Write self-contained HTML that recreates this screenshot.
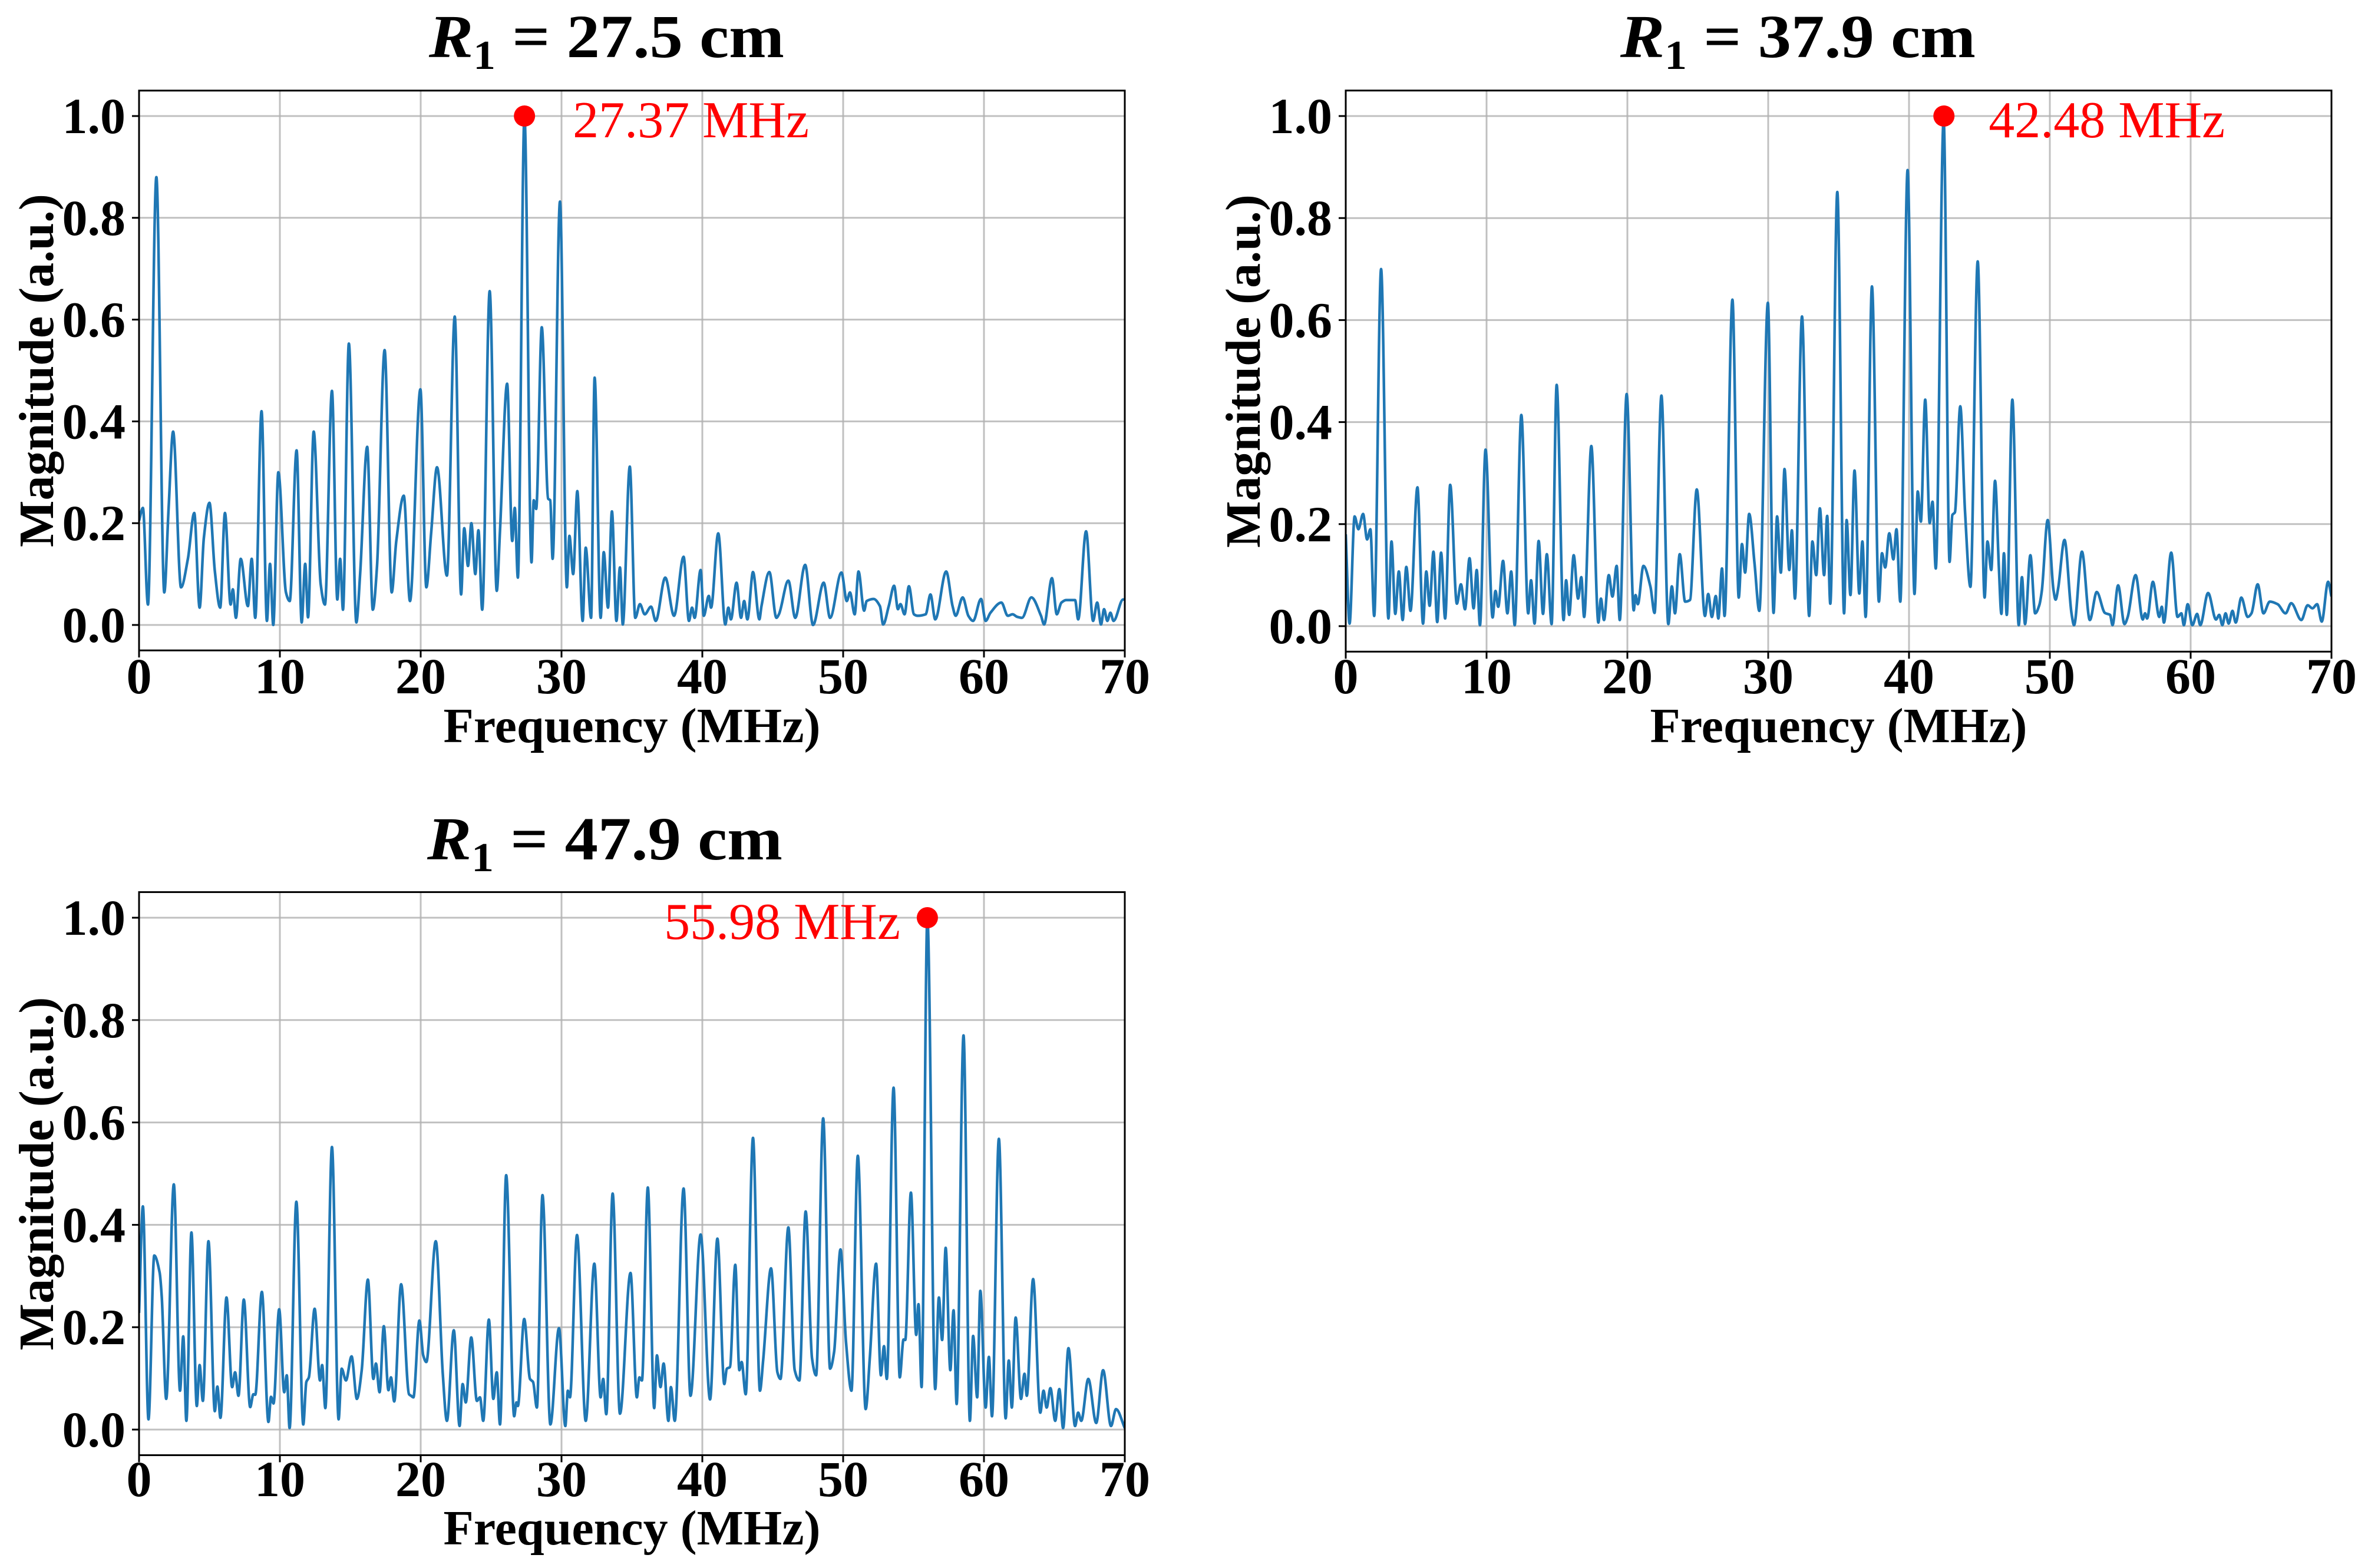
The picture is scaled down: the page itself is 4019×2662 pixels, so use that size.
<!DOCTYPE html>
<html><head><meta charset="utf-8"><style>
html,body{margin:0;padding:0;background:#fff;}
svg{display:block;}
</style></head><body>
<svg id="fig" xmlns="http://www.w3.org/2000/svg" width="4019" height="2662" viewBox="0 0 4019 2662"></svg>
<script>
const xTicks=[0,10,20,30,40,50,60,70];
const yTicks=[0,0.2,0.4,0.6,0.8,1.0];
const yTickLabels=["0.0","0.2","0.4","0.6","0.8","1.0"];
const titles=["27.5 cm","37.9 cm","47.9 cm"];
const peakFreqs=[27.37,42.48,55.98];
const peakMags=[1.0,1.0,1.0];
const peakLabels=["27.37 MHz","42.48 MHz","55.98 MHz"];

const freq1=[0,.27,.63,1.23,1.79,2.1,2.42,2.98,3.47,3.92,4.3,4.6,5.0,5.38,5.76,6.1,6.5,6.66,6.88,7.22,7.73,8.0,8.25,8.7,9.08,9.3,9.53,9.89,10.43,10.7,11.19,11.55,11.8,12.0,12.4,12.9,13.2,13.7,14.08,14.28,14.48,14.9,15.43,15.7,16.2,16.6,16.9,17.44,17.94,18.27,18.8,19.24,19.98,20.4,20.74,21.16,21.86,22.42,22.87,23.09,23.36,23.6,23.88,24.1,24.37,24.9,25.4,25.63,26.14,26.5,26.68,26.9,27.37,27.87,28.03,28.2,28.6,29.05,29.2,29.37,29.89,30.38,30.56,30.83,31.12,31.5,31.72,32.1,32.35,32.78,33.0,33.3,33.58,33.9,34.15,34.35,34.85,35.24,35.57,35.91,36.36,36.69,37.37,37.99,38.67,39.05,39.27,39.45,39.88,40.10,40.46,40.62,41.13,41.63,41.85,42.03,42.43,42.75,42.97,43.20,43.60,44.05,44.20,44.76,45.26,45.44,46.11,46.60,47.30,47.86,48.62,49.07,49.88,50.26,50.48,50.82,51.09,51.49,51.67,52.16,52.61,52.84,53.24,53.62,53.89,54.07,54.36,54.67,55.03,55.30,55.86,56.20,56.54,57.32,57.77,57.99,58.49,58.89,59.23,59.79,60.12,60.46,61.24,61.69,62.03,62.36,62.70,63.37,64.05,64.27,64.83,65.17,65.50,65.84,66.18,66.47,66.69,67.25,67.75,68.04,68.31,68.53,68.76,68.98,69.20,69.88,70];
const mag1=[.205,.23,.04,.88,.064,.23,.38,.074,.13,.22,.034,.17,.24,.106,.034,.22,.04,.07,.014,.13,.037,.13,.014,.42,.008,.12,0,.30,.064,.047,.343,.005,.12,.015,.38,.08,.04,.46,.05,.13,.03,.553,.005,.10,.35,.03,.116,.54,.064,.166,.254,.047,.463,.074,.18,.31,.097,.606,.06,.19,.116,.2,.10,.186,.03,.656,.067,.185,.474,.165,.23,.093,1.0,.123,.245,.228,.585,.248,.245,.13,.832,.074,.175,.10,.263,.008,.152,.014,.486,.014,.143,.034,.223,.008,.113,.001,.311,.014,.041,.021,.036,.008,.093,.018,.134,.008,.034,.014,.108,.018,.057,.034,.180,.001,.034,.011,.083,.014,.047,.011,.104,.011,.037,.104,.014,.021,.087,.014,.118,0,.083,.014,.103,.047,.064,.021,.105,.028,.047,.051,.037,.001,.037,.077,.031,.041,.021,.076,.021,.018,.021,.060,.011,.105,.037,.018,.054,.018,.008,.051,.008,.024,.044,.018,.021,.016,.014,.054,.018,.001,.092,.021,.044,.049,.049,.049,.011,.184,.008,.044,.001,.031,.008,.024,.008,.05,.05];

const freq2=[0,.27,.63,.9,1.23,1.52,1.75,2.02,2.51,3.03,3.25,3.52,3.77,4.04,4.3,4.6,5.09,5.49,5.72,5.96,6.23,6.5,6.77,7.06,7.42,7.89,8.18,8.47,8.79,9.08,9.3,9.53,9.93,10.43,10.63,10.83,11.17,11.48,11.75,12.0,12.47,12.96,13.16,13.41,13.7,14.01,14.28,14.62,14.98,15.47,15.65,15.87,16.19,16.5,16.73,16.93,17.44,17.94,18.12,18.34,18.68,18.94,19.24,19.46,19.95,20.45,20.58,20.74,21.14,21.64,21.93,22.42,22.91,23.16,23.38,23.72,24.1,24.44,24.93,25.51,25.74,26.0,26.28,26.46,26.72,26.9,27.46,27.91,28.14,28.36,28.65,29.03,29.37,29.98,30.38,30.63,30.9,31.16,31.5,31.68,31.9,32.4,32.91,33.14,33.41,33.67,33.97,34.19,34.41,34.91,35.39,35.57,35.84,36.13,36.47,36.69,36.92,37.37,37.86,38.08,38.31,38.6,38.89,39.11,39.38,39.9,40.39,40.62,40.84,41.15,41.47,41.67,41.9,42.46,42.88,43.08,43.26,43.64,43.98,44.36,44.88,45.37,45.57,45.84,46.11,46.38,46.56,46.74,46.94,47.34,47.79,48.02,48.24,48.62,48.96,49.25,49.43,49.85,50.26,50.41,50.59,51.04,51.54,51.72,52.28,52.84,53.33,53.91,54.28,54.45,54.85,55.3,55.53,56.09,56.6,56.76,56.91,57.32,57.77,57.95,58.1,58.62,59.07,59.34,59.52,59.79,60.12,60.46,60.68,61.24,61.8,62.03,62.25,62.48,62.7,62.97,63.2,63.6,64.05,64.32,64.76,65.17,65.62,66.18,66.74,67.14,67.86,68.31,68.65,68.98,69.31,69.76,70];
const mag2=[.18,.005,.215,.19,.22,.17,.19,.02,.70,.015,.166,.024,.107,.012,.116,.03,.272,.005,.107,.04,.146,.008,.144,.015,.277,.044,.082,.033,.133,.035,.11,.002,.346,.017,.069,.038,.128,.025,.107,.002,.414,.025,.09,.005,.167,.024,.141,.004,.473,.012,.09,.022,.139,.054,.096,.018,.353,.007,.054,.012,.10,.058,.118,.012,.455,.031,.061,.043,.118,.077,.026,.452,.004,.078,.025,.141,.048,.051,.268,.02,.063,.018,.059,.015,.113,.02,.64,.056,.161,.105,.22,.123,.03,.634,.026,.215,.105,.308,.11,.188,.054,.607,.02,.166,.10,.231,.10,.216,.044,.851,.025,.208,.061,.305,.064,.166,.018,.666,.048,.143,.115,.182,.131,.19,.048,.894,.063,.264,.205,.444,.202,.244,.113,.993,.126,.218,.223,.431,.224,.077,.715,.056,.166,.11,.285,.116,.024,.143,.022,.444,.002,.096,.004,.139,.025,.041,.069,.208,.071,.052,.074,.169,.025,.002,.146,.012,.067,.026,.022,.002,.08,.004,.018,.10,.013,.025,.015,.087,.018,.038,.007,.144,.018,.025,.002,.043,.002,.024,.002,.065,.013,.022,.002,.025,.005,.03,.007,.056,.018,.025,.082,.025,.048,.043,.025,.045,.012,.041,.035,.043,.009,.087,.058];

const freq3=[0,.27,.67,1.08,1.46,1.61,1.93,2.47,2.91,3.14,3.36,3.72,4.1,4.3,4.53,4.93,5.38,5.56,5.78,6.21,6.61,6.82,7.06,7.44,7.89,8.12,8.25,8.72,9.19,9.37,9.55,9.95,10.31,10.49,10.69,11.17,11.66,11.88,12.06,12.47,12.85,13.0,13.23,13.7,14.17,14.39,14.69,15.09,15.47,15.81,16.25,16.64,16.82,17.08,17.38,17.71,17.89,18.12,18.61,19.17,19.32,19.48,19.91,20.18,20.4,21.07,21.57,21.86,22.35,22.76,22.98,23.2,23.59,23.99,24.21,24.44,24.84,25.16,25.4,25.63,26.07,26.64,26.8,26.9,27.35,27.76,27.98,28.25,28.65,29.21,29.82,30.27,30.45,30.6,31.1,31.72,32.33,32.78,32.96,33.18,33.63,34.15,34.9,35.35,35.53,35.71,36.13,36.58,36.78,37.03,37.25,37.59,37.77,38.04,38.67,39.16,39.88,40.55,41.07,41.56,41.74,41.96,42.34,42.63,42.79,43.08,43.6,44.09,44.32,44.88,45.33,45.55,46.11,46.56,46.89,47.34,47.79,48.08,48.58,49.07,49.36,49.81,50.21,50.59,51.04,51.6,51.89,52.34,52.68,52.9,53.1,53.58,54.02,54.29,54.41,54.81,55.19,55.35,55.57,55.98,56.54,56.8,57.03,57.28,57.61,57.84,58.06,58.55,59.0,59.23,59.52,59.74,60.12,60.35,60.57,61.06,61.54,61.76,61.98,62.25,62.63,62.88,63.04,63.49,64.0,64.23,64.45,64.72,65.06,65.35,65.62,66.0,66.47,66.69,66.91,67.41,67.97,68.46,69.02,69.38,70];
const mag3=[.228,.436,.02,.34,.307,.26,.06,.479,.076,.182,.017,.385,.046,.126,.056,.368,.036,.084,.023,.258,.083,.112,.066,.254,.044,.069,.068,.269,.015,.064,.051,.235,.073,.106,.003,.445,.01,.093,.102,.236,.096,.126,.042,.552,.02,.119,.096,.143,.06,.116,.293,.099,.129,.073,.202,.077,.102,.055,.284,.069,.066,.063,.213,.145,.132,.368,.109,.017,.194,.007,.089,.053,.18,.056,.063,.017,.215,.06,.112,.01,.497,.026,.053,.046,.216,.099,.093,.043,.458,.01,.198,.007,.076,.063,.38,.017,.324,.063,.099,.03,.461,.031,.306,.063,.102,.096,.473,.042,.145,.083,.129,.017,.083,.017,.471,.066,.381,.059,.373,.089,.119,.122,.322,.116,.132,.069,.57,.076,.135,.315,.112,.099,.395,.116,.096,.426,.139,.106,.608,.119,.152,.352,.169,.076,.535,.04,.139,.324,.106,.163,.099,.668,.102,.176,.175,.463,.185,.245,.083,1.0,.079,.258,.175,.355,.116,.233,.05,.77,.017,.183,.063,.271,.043,.142,.026,.568,.022,.135,.043,.219,.06,.109,.066,.294,.033,.076,.043,.081,.017,.079,.003,.159,.007,.033,.017,.099,.013,.116,.007,.04,.003];

const freqSets=[freq1,freq2,freq3];
const magSets=[mag1,mag2,mag3];
const panels=[
 {x0:236,x1:1909,y1:197,y0:1061,tb:97,tx:728,xtb:1177,xlb:1260,ylx:61,ytr:213,lbl:{dx:82,anchor:"start"}},
 {x0:2284,x1:3957,y1:197,y0:1063,tb:97,tx:2750,xtb:1177,xlb:1260,ylx:2109,ytr:2261,lbl:{dx:76,anchor:"start"}},
 {x0:236,x1:1909,y1:1558,y0:2427,tb:1459,tx:725,xtb:2540,xlb:2622,ylx:61,ytr:213,lbl:{dx:-46,anchor:"end"}}
];
const NS="http://www.w3.org/2000/svg";
const svg=document.getElementById("fig");
function mk(tag,attrs,parent){const e=document.createElementNS(NS,tag);for(const k in attrs)e.setAttribute(k,attrs[k]);(parent||svg).appendChild(e);return e;}
function monotonePath(px,py){
 const n=px.length;const d=[],m=new Array(n);
 for(let i=0;i<n-1;i++)d.push((py[i+1]-py[i])/(px[i+1]-px[i]));
 m[0]=d[0];m[n-1]=d[n-2];
 for(let i=1;i<n-1;i++){ if(d[i-1]*d[i]<=0)m[i]=0; else m[i]=2/(1/d[i-1]+1/d[i]); }
 let s="M"+px[0].toFixed(1)+","+py[0].toFixed(1);
 for(let i=0;i<n-1;i++){const h=px[i+1]-px[i];
  s+=" C"+(px[i]+h/3).toFixed(1)+","+(py[i]+m[i]*h/3).toFixed(1)+" "+(px[i+1]-h/3).toFixed(1)+","+(py[i+1]-m[i+1]*h/3).toFixed(1)+" "+px[i+1].toFixed(1)+","+py[i+1].toFixed(1);}
 return s;
}
panels.forEach((P,k)=>{
 const X=f=>P.x0+(f-0)/(70-0)*(P.x1-P.x0);
 const Y=v=>P.y0-v*(P.y0-P.y1);
 const top=Y(1.05),bot=Y(-0.05);
 const g=mk("g",{});
 
 
 const clipId="clip"+k;
 const cp=mk("clipPath",{id:clipId},g);mk("rect",{x:P.x0,y:top,width:P.x1-P.x0,height:bot-top},cp);
 xTicks.forEach(t=>{const l=mk("line",{x1:X(t),x2:X(t),y1:top,y2:bot,stroke:"#b0b0b0","stroke-width":3,"stroke-opacity":0.8},g);
  });
 yTicks.forEach(t=>{const l=mk("line",{x1:P.x0,x2:P.x1,y1:Y(t),y2:Y(t),stroke:"#b0b0b0","stroke-width":3,"stroke-opacity":0.8},g);
  });
 const fr=freqSets[k],mg=magSets[k];
 const path=mk("path",{d:monotonePath(fr.map(X),mg.map(Y)),fill:"none",stroke:"#1f77b4","stroke-width":4.5,"stroke-linejoin":"round","clip-path":"url(#"+clipId+")"},g);
 
 
 const box=mk("rect",{x:P.x0,y:top,width:P.x1-P.x0,height:bot-top,fill:"none",stroke:"#000","stroke-width":3},g);
 
 xTicks.forEach(t=>{mk("line",{x1:X(t),x2:X(t),y1:bot,y2:bot+12,stroke:"#000","stroke-width":3},g);
  const tx=mk("text",{x:X(t),y:P.xtb,"text-anchor":"middle","font-family":"Liberation Serif, serif","font-weight":"bold","font-size":86},g);
  tx.textContent=String(t);});
 yTicks.forEach((t,i)=>{mk("line",{x1:P.x0-12,x2:P.x0,y1:Y(t),y2:Y(t),stroke:"#000","stroke-width":3},g);
  const tx=mk("text",{x:P.ytr,y:Y(t)+29,"text-anchor":"end","font-family":"Liberation Serif, serif","font-weight":"bold","font-size":86},g);
  tx.textContent=yTickLabels[i];});
 const cx=(P.x0+P.x1)/2;
 const xl=mk("text",{x:cx,y:P.xlb,"text-anchor":"middle","font-family":"Liberation Serif, serif","font-weight":"bold","font-size":84},g);
 xl.textContent="Frequency (MHz)";
 const cy=(top+bot)/2;
 const yl=mk("text",{x:0,y:0,"text-anchor":"middle","font-family":"Liberation Serif, serif","font-weight":"bold","font-size":84,transform:"translate("+(P.ylx+29)+","+cy+") rotate(-90)"},g);
 yl.textContent="Magnitude (a.u.)";
 const tt=mk("text",{x:P.tx,y:P.tb,"text-anchor":"start","font-family":"Liberation Serif, serif","font-weight":"bold","font-size":104,textLength:603,lengthAdjust:"spacingAndGlyphs"},g);
 
 const r=mk("tspan",{"font-style":"italic"},tt);r.textContent="R";
 const s=mk("tspan",{"font-size":70,dy:20},tt);s.textContent="1";
 const rest=mk("tspan",{dy:-20},tt);rest.textContent=" = "+titles[k];
 const dot=mk("circle",{cx:X(peakFreqs[k]),cy:Y(peakMags[k]),r:18,fill:"#ff0000"},g);
 
 const pl=mk("text",{x:X(peakFreqs[k])+P.lbl.dx,y:Y(peakMags[k])+36,"text-anchor":P.lbl.anchor,"font-family":"Liberation Serif, serif","font-size":88,fill:"#ff0000"},g);
 pl.textContent=peakLabels[k];
});
</script>
</body></html>
